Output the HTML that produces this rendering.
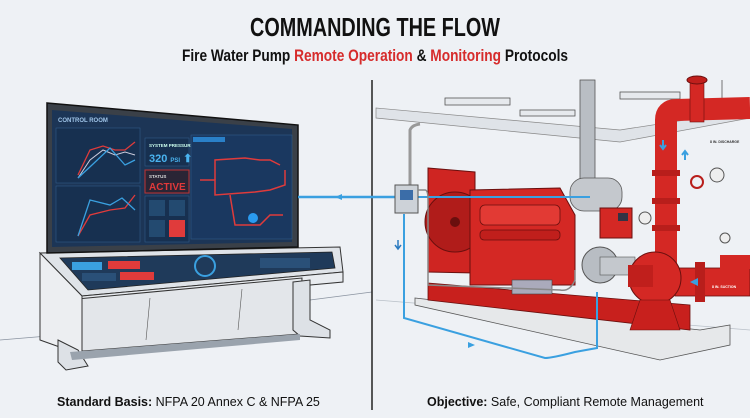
<!DOCTYPE html>
<html><head><meta charset="utf-8"><style>
body{margin:0;width:750px;height:418px;overflow:hidden;background:#eef1f5;font-family:"Liberation Sans",sans-serif}
svg{position:absolute;left:0;top:0}
.t{font-family:"Liberation Sans",sans-serif;font-weight:bold}
</style></head><body>
<svg width="750" height="418" viewBox="0 0 750 418">
<rect width="750" height="418" fill="#eef1f5"/>
<!-- floor lines -->
<line x1="0" y1="340" x2="60" y2="335" stroke="#8a93a0" stroke-width="0.8"/>
<line x1="310" y1="300" x2="372" y2="292" stroke="#8a93a0" stroke-width="0.8"/>
<line x1="376" y1="300" x2="750" y2="330" stroke="#b9c0c8" stroke-width="0.8"/>
<!-- divider -->
<line x1="372" y1="80" x2="372" y2="410" stroke="#222" stroke-width="1.5"/>
<line x1="722" y1="80" x2="722" y2="110" stroke="#555" stroke-width="0.8"/>
<!-- title -->
<text x="375" y="36" text-anchor="middle" class="t" font-size="26" fill="#111" textLength="250" lengthAdjust="spacingAndGlyphs">COMMANDING THE FLOW</text>
<text x="375" y="61" text-anchor="middle" class="t" font-size="17" fill="#111" textLength="386" lengthAdjust="spacingAndGlyphs">Fire Water Pump <tspan fill="#d62b2b">Remote Operation</tspan> &amp; <tspan fill="#d62b2b">Monitoring</tspan> Protocols</text>

<!-- console left -->
<polygon points="40,253 340,247 343,272 82,296" fill="#dfe3e8" stroke="#333" stroke-width="1"/>
<polygon points="60,258 332,252 335,268 88,290" fill="#1f3a5a" stroke="#222" stroke-width="0.8"/>
<rect x="72" y="262" width="30" height="8" fill="#3aa0e0"/><rect x="108" y="261" width="32" height="8" fill="#e03b3b"/>
<rect x="82" y="273" width="34" height="8" fill="#2a5078"/><rect x="120" y="272" width="34" height="8" fill="#e03b3b"/>
<circle cx="205" cy="266" r="10" fill="none" stroke="#3aa0e0" stroke-width="2"/>
<rect x="260" y="258" width="50" height="10" fill="#2a5078"/>
<polygon points="82,296 343,272 343,282 82,306" fill="#e8ebef" stroke="#333" stroke-width="1"/>
<polygon points="66,300 302,278 300,334 70,352" fill="#e3e6ea" stroke="#333" stroke-width="1"/>
<line x1="150" y1="298" x2="146" y2="340" stroke="#555" stroke-width="0.6"/>
<line x1="242" y1="289" x2="238" y2="330" stroke="#555" stroke-width="0.6"/>
<polygon points="40,253 82,296 82,355 40,340" fill="#eceef1" stroke="#333" stroke-width="1"/>
<polygon points="58,340 78,350 88,366 66,370 58,362" fill="#dde1e6" stroke="#333" stroke-width="1"/>
<polygon points="293,282 310,280 310,320 330,330 330,338 300,336 293,330" fill="#dde1e6" stroke="#333" stroke-width="1"/>
<polygon points="70,352 300,334 300,340 72,360" fill="#9aa3ad"/>
<!-- monitor -->
<polygon points="47,103 298,125 298,247 47,253" fill="#3a4048" stroke="#111" stroke-width="1.5"/>
<polygon points="52,110 292,129 292,242 52,247" fill="#1c3556"/>
<text x="58" y="122" font-size="6" fill="#9fc4e8" class="t">CONTROL ROOM</text>
<rect x="56" y="128" width="84" height="55" fill="#173050" stroke="#2f5b88" stroke-width="0.6"/>
<rect x="56" y="186" width="84" height="56" fill="#173050" stroke="#2f5b88" stroke-width="0.6"/>
<polyline points="78,175 90,150 103,146 115,150 125,150 135,142" fill="none" stroke="#e03b3b" stroke-width="1.3"/>
<polyline points="78,178 90,160 103,150 115,155 125,152 135,155" fill="none" stroke="#ccd" stroke-width="1"/>
<polyline points="78,178 92,165 110,148 125,165 135,160" fill="none" stroke="#3aa0e0" stroke-width="1.3"/>
<polyline points="78,236 90,215 110,210 125,208 135,195" fill="none" stroke="#e03b3b" stroke-width="1.3"/>
<polyline points="78,236 90,200 110,205 122,198 135,210" fill="none" stroke="#3aa0e0" stroke-width="1.3"/>
<rect x="145" y="138" width="44" height="28" fill="#173050" stroke="#2f5b88" stroke-width="0.6"/>
<text x="149" y="147" font-size="4.5" fill="#cfe" class="t">SYSTEM PRESSURE</text>
<text x="149" y="162" font-size="11" fill="#4ab4f0" class="t">320 <tspan font-size="6">PSI</tspan> ⬆</text>
<rect x="145" y="170" width="44" height="23" fill="#2a2535" stroke="#c03434" stroke-width="1"/>
<text x="149" y="178" font-size="4.5" fill="#ddd" class="t">STATUS</text>
<text x="149" y="190" font-size="10" fill="#e0393a" class="t">ACTIVE</text>
<rect x="145" y="196" width="44" height="46" fill="#173050" stroke="#2f5b88" stroke-width="0.6"/>
<rect x="149" y="200" width="16" height="16" fill="#234a70"/><rect x="169" y="200" width="16" height="16" fill="#234a70"/>
<rect x="149" y="220" width="16" height="17" fill="#234a70"/><rect x="169" y="220" width="16" height="17" fill="#e03b3b"/>
<rect x="191" y="135" width="101" height="104" fill="#1a3860" stroke="#2f5b88" stroke-width="0.6"/>
<rect x="193" y="137" width="32" height="5" fill="#2a80c8"/>
<polyline points="200,180 215,180 215,195 255,192 270,190 285,185 285,170" fill="none" stroke="#e03b3b" stroke-width="1.5"/>
<polyline points="215,180 215,160 245,158 260,160 270,160 280,165" fill="none" stroke="#e03b3b" stroke-width="1.5"/>
<polyline points="230,195 235,225 260,225 270,215 283,215" fill="none" stroke="#e03b3b" stroke-width="1.5"/>
<circle cx="253" cy="218" r="5" fill="#2a9bf0"/>
<!-- blue link -->
<line x1="298" y1="197" x2="400" y2="197" stroke="#3aa0e0" stroke-width="2.5"/>
<polygon points="335,197 342,194 342,200" fill="#3aa0e0"/>

<!-- right side: ceiling -->
<polygon points="376,108 620,130 750,110 750,118 620,142 376,118" fill="#dfe3e8" stroke="#888" stroke-width="0.7"/>
<rect x="445" y="98" width="65" height="7" fill="#e6e9ed" stroke="#555" stroke-width="0.8"/>
<rect x="520" y="110" width="55" height="6" fill="#e6e9ed" stroke="#555" stroke-width="0.8"/>
<rect x="620" y="92" width="60" height="7" fill="#e6e9ed" stroke="#555" stroke-width="0.8"/>
<path d="M410,185 L410,130 Q412,125 420,124" fill="none" stroke="#999" stroke-width="3"/>
<!-- base -->
<polygon points="415,298 700,330 730,325 730,345 660,360 415,305" fill="#e6e8ea" stroke="#555" stroke-width="0.8"/>
<polygon points="428,283 690,305 690,330 428,300" fill="#c8201d" stroke="#6a0f0e" stroke-width="0.8"/>
<!-- radiator -->
<polygon points="428,168 475,172 475,273 428,272" fill="#cf2522" stroke="#6a0f0e" stroke-width="1"/>
<circle cx="455" cy="222" r="30" fill="#b01c1a" stroke="#6a0f0e"/>
<circle cx="455" cy="222" r="5" fill="#6a0f0e"/>
<!-- engine -->
<polygon points="470,190 560,188 575,215 575,285 470,285" fill="#d42824" stroke="#6a0f0e" stroke-width="1"/>
<rect x="480" y="205" width="80" height="20" rx="5" fill="#e23a34" stroke="#6a0f0e" stroke-width="0.8"/>
<rect x="480" y="230" width="80" height="10" rx="4" fill="#c01f1c" stroke="#6a0f0e" stroke-width="0.8"/>
<rect x="512" y="280" width="40" height="14" fill="#aab" stroke="#444" stroke-width="0.6"/>
<!-- exhaust & muffler -->
<rect x="580" y="80" width="15" height="100" fill="#b9bec4" stroke="#555" stroke-width="0.8"/>
<rect x="570" y="178" width="52" height="33" rx="14" fill="#c4c8cd" stroke="#555" stroke-width="0.8"/>
<!-- controller -->
<rect x="600" y="208" width="32" height="30" fill="#d42824" stroke="#6a0f0e"/>
<rect x="618" y="213" width="10" height="8" fill="#334"/>
<!-- coupling -->
<circle cx="600" cy="265" r="18" fill="#b8bdc3" stroke="#555"/>
<rect x="600" y="257" width="35" height="18" fill="#c4c8cd" stroke="#555" stroke-width="0.6"/>
<!-- pipes -->
<path d="M666,270 L666,120 Q666,110 676,110 L750,108" fill="none" stroke="#d42824" stroke-width="22"/>
<rect x="690" y="82" width="14" height="40" fill="#d42824" stroke="#6a0f0e" stroke-width="0.6"/>
<ellipse cx="697" cy="80" rx="10" ry="4" fill="#c01f1c" stroke="#6a0f0e"/>
<rect x="652" y="170" width="28" height="6" fill="#b81e1b"/><rect x="652" y="198" width="28" height="6" fill="#b81e1b"/><rect x="652" y="225" width="28" height="6" fill="#b81e1b"/>
<circle cx="697" cy="182" r="6" fill="none" stroke="#b81e1b" stroke-width="2"/>
<circle cx="717" cy="175" r="7" fill="#eee" stroke="#555"/>
<circle cx="645" cy="218" r="6" fill="#eee" stroke="#555"/>
<circle cx="725" cy="238" r="5" fill="#eee" stroke="#555"/>
<rect x="675" y="268" width="75" height="28" fill="#d42824" stroke="#6a0f0e" stroke-width="0.8"/>
<rect x="720" y="255" width="30" height="14" fill="#d42824"/>
<circle cx="655" cy="278" r="26" fill="#d42824" stroke="#6a0f0e"/>
<rect x="695" y="262" width="10" height="40" fill="#b81e1b"/>
<rect x="628" y="265" width="25" height="22" fill="#c01f1c"/>
<polygon points="640,300 670,300 680,330 630,330" fill="#c8201d" stroke="#6a0f0e" stroke-width="0.6"/>
<text x="710" y="143" font-size="3.5" fill="#333" class="t">8 IN. DISCHARGE</text>
<text x="712" y="288" font-size="3.5" fill="#fff" class="t">8 IN. SUCTION</text>
<path d="M663,140 v8 M660,145 l3,4 l3,-4" stroke="#3aa0e0" stroke-width="2" fill="none"/>
<path d="M685,160 v-8 M682,155 l3,-4 l3,4" stroke="#3aa0e0" stroke-width="2" fill="none"/>
<polygon points="690,282 698,278 698,286" fill="#3aa0e0"/>
<!-- blue wire + box -->
<line x1="400" y1="197" x2="590" y2="197" stroke="#3aa0e0" stroke-width="2"/>
<rect x="395" y="185" width="23" height="28" fill="#cdd2d8" stroke="#555"/>
<rect x="400" y="190" width="13" height="10" fill="#3b6da8"/>
<path d="M404,214 L404,318 L545,358 Q552,358 575,352 L597,348 L597,292" fill="none" stroke="#3aa0e0" stroke-width="2"/>
<path d="M398,240 v8 M395,245 l3,4 l3,-4" stroke="#2a7ac0" stroke-width="1.5" fill="none"/>
<polygon points="475,345 468,342 468,348" fill="#3aa0e0"/>
<path d="M418,190 L425,190 Q428,190 428,200 L428,285 L560,290 Q570,292 575,280 L575,270" fill="none" stroke="#888" stroke-width="1.5"/>

<!-- bottom texts -->
<text x="57" y="406" font-size="12.5" fill="#111"><tspan font-weight="bold">Standard Basis:</tspan> NFPA 20 Annex C &amp; NFPA 25</text>
<text x="427" y="406" font-size="12.5" fill="#111"><tspan font-weight="bold">Objective:</tspan> Safe, Compliant Remote Management</text>
</svg>
</body></html>
